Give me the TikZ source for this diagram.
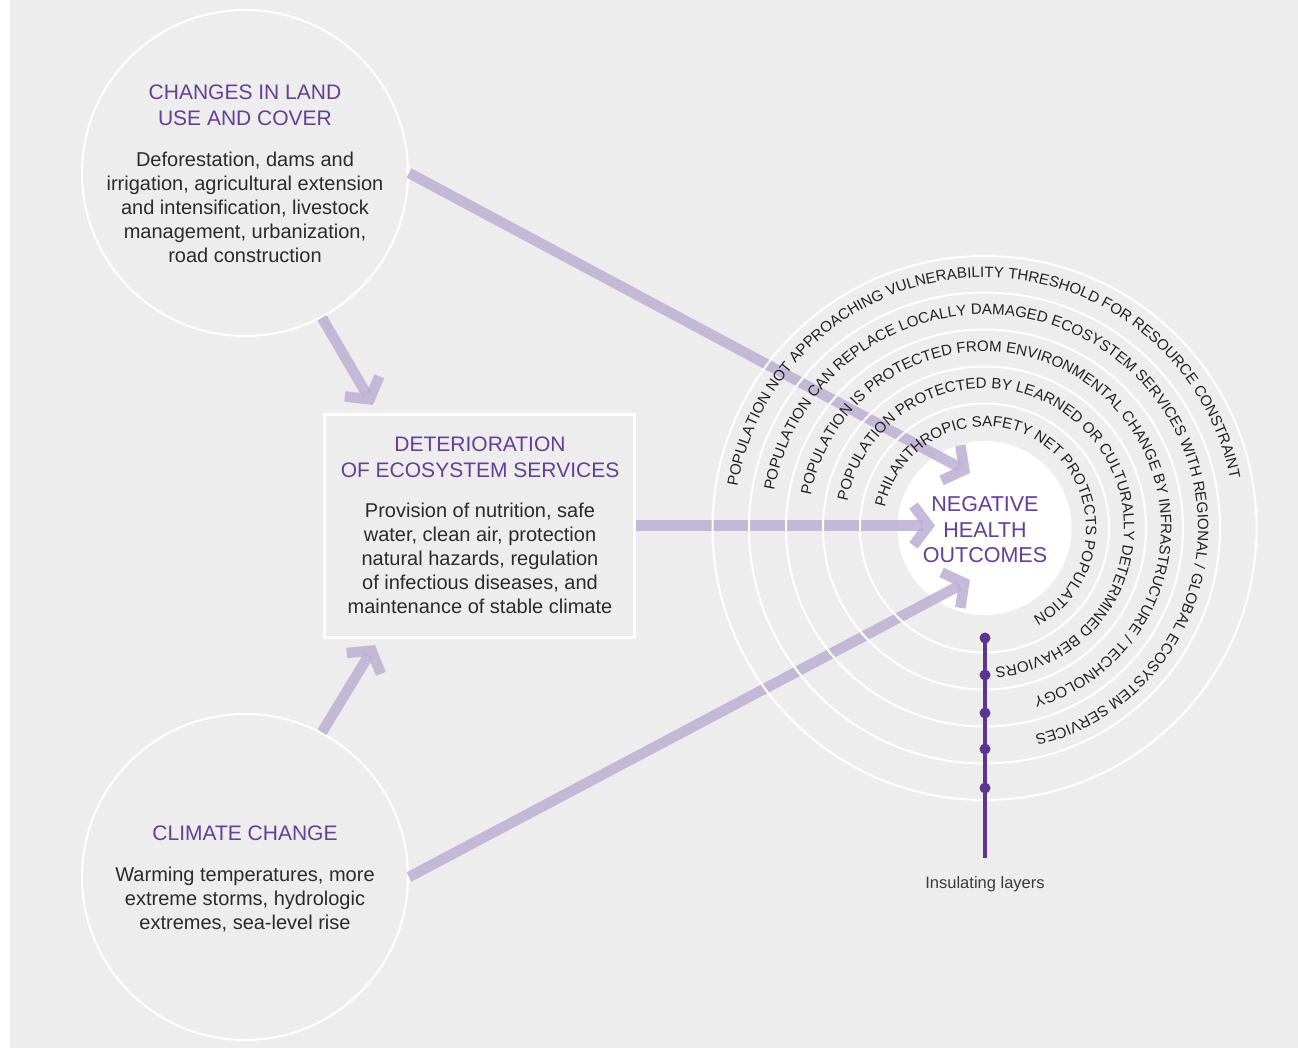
\documentclass[tikz,border=0pt]{standalone}
\usepackage{fontspec}
\setmainfont{Liberation Sans}
\usetikzlibrary{arrows.meta,decorations.text}
\definecolor{bggrey}{RGB}{237,237,237}
\definecolor{ttl}{RGB}{100,63,147}
\definecolor{bodytxt}{RGB}{43,43,43}
\definecolor{arr}{RGB}{189,175,212}
\definecolor{linepurple}{RGB}{91,53,143}
\definecolor{ringtxt}{RGB}{34,34,34}
\definecolor{labtxt}{RGB}{58,58,58}
\newcommand\ringfnt{\fontsize{15.1}{18}\selectfont}
\begin{document}
\begin{tikzpicture}[x=1pt,y=1pt,
  bubble/.style={circle, draw=white, line width=2pt, minimum size=326pt, inner sep=0pt},
  panel/.style={rectangle, draw=white, line width=3pt, minimum width=310pt, minimum height=223pt, inner sep=0pt},
  ttltext/.style={font=\fontsize{21}{26}\selectfont, text=ttl, align=center, anchor=base, inner sep=0pt},
  bodytext/.style={font=\fontsize{20}{24}\selectfont, text=bodytxt, align=center, anchor=base, inner sep=0pt},
  flow/.style={draw=arr, line width=10.5pt, draw opacity=0.85, -{Straight Barb[length=15pt,width=40pt]}},
  ring/.style={draw=white, line width=2pt},
  ringtext/.style={decorate, decoration={text along path, text align=left, text color=ringtxt, text={|\ringfnt|#1}}},
]
\useasboundingbox (0,0) rectangle (1298,-1048);
\fill[white] (0,0) rectangle (1298,-1048);
\fill[bggrey] (10,0) rectangle (1298,-1048);

% main shapes
\node[bubble] (land) at (245,-173) {};
\node[bubble] (climate) at (245,-877) {};
\node[panel] (eco) at (479,-525.5) {};
\node[circle, fill=white, minimum size=174pt, inner sep=0pt] (health) at (984.5,-528) {};

% texts (anchor=base is the baseline of the last line)
\node[ttltext] (landT) at (245,-126) {CHANGES IN LAND\\USE AND COVER};
\node[bodytext] (landB) at (245,-263) {Deforestation, dams and\\irrigation, agricultural extension\\and intensification, livestock\\management, urbanization,\\road construction};
\node[ttltext] (ecoT) at (480,-477.3) {DETERIORATION\\OF ECOSYSTEM SERVICES};
\node[bodytext] (ecoB) at (480,-613.5) {Provision of nutrition, safe\\water, clean air, protection\\natural hazards, regulation\\of infectious diseases, and\\maintenance of stable climate};
\node[ttltext] (climT) at (245,-840) {CLIMATE CHANGE};
\node[bodytext] (climB) at (245,-929.5) {Warming temperatures, more\\extreme storms, hydrologic\\extremes, sea-level rise};
\node[ttltext, font=\fontsize{21.5}{25.3}\selectfont] (healthT) at (985,-562.3) {NEGATIVE\\HEALTH\\OUTCOMES};

% arrows
\coordinate (tipA) at (970,-473);
\coordinate (tipB) at (935,-525.5);
\coordinate (tipC) at (970,-580);
\coordinate (tipD) at (373,-405);
\coordinate (tipE) at (375,-645);
\draw[flow] (land.east) -- (tipA);
\draw[flow] (eco.east) -- (tipB);
\draw[flow] (climate.east) -- (tipC);
\draw[flow] (land.-62) -- (tipD);
\draw[flow] (climate.62) -- (tipE);

% rings
\foreach \r in {124.5,161.5,198.5,235.5,272} \draw[ring] (health.center) circle[radius=\r];

% ring texts
\path[ringtext={POPULATION NOT APPROACHING VULNERABILITY THRESHOLD FOR RESOURCE CONSTRAINT}]
  ([shift={(170.5:250.5pt)}]health.center) arc[start angle=170.5, end angle=-120, radius=250.5];
\path[ringtext={POPULATION CAN REPLACE LOCALLY DAMAGED ECOSYSTEM SERVICES WITH REGIONAL / GLOBAL ECOSYSTEM SERVICES}]
  ([shift={(170:213.5pt)}]health.center) arc[start angle=170, end angle=-120, radius=213.5];
\path[ringtext={POPULATION IS PROTECTED FROM ENVIRONMENTAL CHANGE BY INFRASTRUCTURE / TECHNOLOGY}]
  ([shift={(169.5:176.5pt)}]health.center) arc[start angle=169.5, end angle=-120, radius=176.5];
\path[ringtext={POPULATION PROTECTED BY LEARNED OR CULTURALLY DETERMINED BEHAVIORS}]
  ([shift={(169:139.5pt)}]health.center) arc[start angle=169, end angle=-120, radius=139.5];
\path[ringtext={PHILANTHROPIC SAFETY NET PROTECTS POPULATION}]
  ([shift={(168.5:101.5pt)}]health.center) arc[start angle=168.5, end angle=-120, radius=101.5];

% insulating layers
\coordinate (lineTop) at (985,-638);
\coordinate (lineBot) at (985,-858);
\node[font=\fontsize{16.5}{20}\selectfont, text=labtxt, anchor=base, inner sep=0pt] (ins) at (985,-888.3) {Insulating layers};
\draw[linepurple, line width=4.5pt] (lineTop) -- (lineBot);
\foreach \yy in {638,675,713,749,788} \fill[linepurple] (985,-\yy) circle[radius=5.5];
\end{tikzpicture}
\end{document}
